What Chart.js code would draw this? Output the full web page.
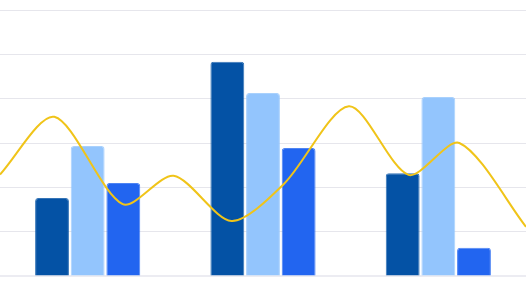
<!DOCTYPE html>
<html>
<head>
<meta charset="utf-8">
<script src="https://cdn.jsdelivr.net/npm/chart.js@4/dist/chart.umd.min.js"></script>
<style>
  html, body { margin: 0; padding: 0; background: #fff; }
  #wrap { width: 526px; height: 284px; }
</style>
</head>
<body>
<div id="wrap"><canvas id="chart"></canvas></div>
<script>
const categories = ['A', 'B', 'C'];
const categoryPos = [0, 1, 2];
const seriesDark = [17.6, 48.3, 23.2];
const seriesLight = [29.3, 41.3, 40.4];
const seriesBlue = [21.0, 28.9, 6.4];
const lineX = [-0.5, -0.19, 0.2, 0.49, 0.82, 1.12, 1.49, 1.83, 2.12, 2.5];
const lineValues = [22.9, 35.9, 16.2, 22.6, 12.4, 20.8, 38.3, 22.8, 30.0, 11.1];

document.addEventListener('DOMContentLoaded', function () {
  const ctx = document.getElementById('chart');
  const toPoints = function (xs, ys) {
    return xs.map(function (x, i) { return { x: x, y: ys[i] }; });
  };
  const barStyle = function (color) {
    return {
      backgroundColor: color,
      borderColor: color + 'cc',
      borderWidth: 1,
      borderRadius: 3,
      borderSkipped: 'bottom',
      categoryPercentage: 0.61,
      barPercentage: 0.95,
      order: 2
    };
  };
  new Chart(ctx, {
    type: 'bar',
    data: {
      datasets: [
        Object.assign({ label: 'Dark', data: toPoints(categoryPos, seriesDark) }, barStyle('#0452a5')),
        Object.assign({ label: 'Light', data: toPoints(categoryPos, seriesLight) }, barStyle('#93c5fd')),
        Object.assign({ label: 'Blue', data: toPoints(categoryPos, seriesBlue) }, barStyle('#2265f0')),
        {
          type: 'line',
          label: 'Line',
          data: toPoints(lineX, lineValues),
          borderColor: '#f0c419',
          borderWidth: 2,
          tension: 0.28,
          pointRadius: 0,
          fill: false,
          order: 1
        }
      ]
    },
    options: {
      responsive: true,
      maintainAspectRatio: false,
      animation: false,
      layout: { padding: { top: 10, bottom: 7, left: 0, right: 0 } },
      plugins: { legend: { display: false }, tooltip: { enabled: false } },
      scales: {
        x: {
          type: 'linear',
          min: -0.5,
          max: 2.5,
          offset: false,
          ticks: { display: false },
          grid: { display: false },
          border: { display: true, color: '#ececf2', width: 2 },
          afterBuildTicks: function (scale) {
            scale.ticks = [{ value: -0.5 }, { value: 2.5 }];
          },
          afterFit: function (scale) { scale.height = 1; }
        },
        y: {
          min: 0,
          max: 60,
          ticks: { display: false, stepSize: 10 },
          grid: { color: '#e6e6ec', drawTicks: false },
          border: { display: false }
        }
      }
    }
  });
});
</script>
</body>
</html>
